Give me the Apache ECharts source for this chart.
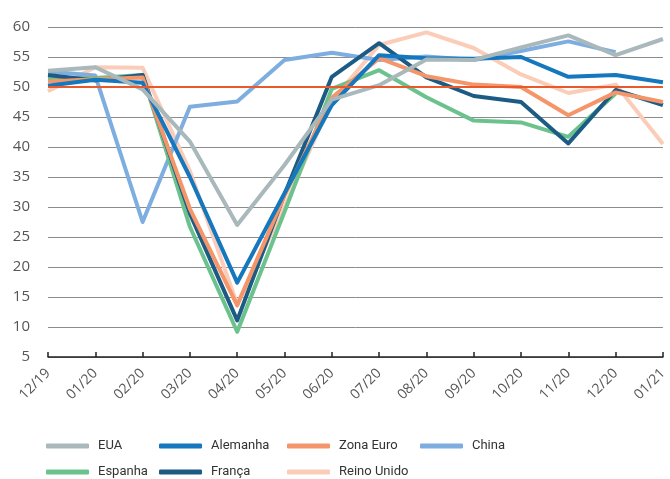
<!DOCTYPE html>
<html>
<head>
<meta charset="utf-8">
<script src="https://cdn.jsdelivr.net/npm/echarts@6/dist/echarts.min.js"></script>
<style>
    html, body { margin: 0; padding: 0; background: #fff; }
    #chart { width: 670px; height: 479px; }
</style>
</head>
<body>
<div id="chart"></div>
<script>
var meses = ['12/19', '01/20', '02/20', '03/20', '04/20', '05/20', '06/20', '07/20', '08/20', '09/20', '10/20', '11/20', '12/20', '01/21'];

var eua = [52.7, 53.3, 49.6, 40.9, 27.0, 37.0, 47.9, 50.3, 54.6, 54.5, 56.6, 58.6, 55.3, 58.0];
var alemanha = [50.2, 51.2, 50.7, 35.0, 17.4, 32.3, 47.0, 55.3, 54.8, 54.7, 55.0, 51.7, 52.0, 50.8];
var zonaEuro = [50.9, 51.3, 51.6, 29.7, 13.6, 31.9, 48.2, 54.8, 51.8, 50.4, 50.0, 45.3, 49.1, 47.5];
var china = [52.6, 51.9, 27.5, 46.7, 47.6, 54.5, 55.7, 54.5, 55.1, 54.5, 56.0, 57.6, 55.8, null];
var espanha = [51.5, 51.5, 52.0, 26.7, 9.2, 29.2, 49.7, 52.8, 48.3, 44.4, 44.1, 41.7, 48.9, null];
var franca = [52.0, 51.1, 52.0, 28.9, 11.1, 32.1, 51.7, 57.3, 51.6, 48.5, 47.5, 40.6, 49.5, 47.0];
var reinoUnido = [49.3, 53.3, 53.2, 36.0, 13.8, 30.0, 47.7, 57.0, 59.1, 56.5, 52.1, 49.0, 50.4, 40.5];

var yTicks = { min: 5, max: 60, step: 5 };
var referencia = 50;

var cores = {
    'EUA': '#a9b8ba',
    'Alemanha': '#1577bd',
    'Zona Euro': '#f4956a',
    'China': '#7eaee0',
    'Espanha': '#6cc28d',
    'França': '#1b5b84',
    'Reino Unido': '#fbcdb8'
};

var fonte = "'Open Sans', 'Noto Sans', sans-serif";
var fonteLegenda = "Roboto, 'Open Sans', sans-serif";

function serie(nome, dados) {
    return {
        name: nome,
        type: 'line',
        data: dados,
        symbol: 'none',
        connectNulls: false,
        lineStyle: { width: 4, color: cores[nome], join: 'round' },
        itemStyle: { color: cores[nome] },
        emphasis: { disabled: true }
    };
}

// uma legenda por item, para posicionar como no original
function legenda(left, centroY, nome) {
    return {
        left: left,
        top: centroY - 8,
        padding: 0,
        itemWidth: 43,
        itemHeight: 5,
        icon: 'roundRect',
        selectedMode: false,
        data: [nome],
        textStyle: { fontFamily: fonteLegenda, fontSize: 13, lineHeight: 16, color: '#333', padding: [0, 0, 0, 4] }
    };
}

var series = [
    serie('Reino Unido', reinoUnido),
    serie('China', china),
    serie('Espanha', espanha),
    serie('França', franca),
    serie('Zona Euro', zonaEuro),
    serie('Alemanha', alemanha),
    serie('EUA', eua)
];

series[0].markLine = {
    silent: true,
    symbol: 'none',
    label: { show: false },
    lineStyle: { type: 'solid', color: '#e85a2c', width: 2 },
    data: [{ yAxis: referencia }]
};

var chart = echarts.init(document.getElementById('chart'), null, { renderer: 'canvas' });

chart.setOption({
    animation: false,
    backgroundColor: '#fff',
    grid: { left: 48, right: 4, top: 27, bottom: 122, containLabel: false },
    legend: [
        legenda(46, 446, 'EUA'),
        legenda(159, 446, 'Alemanha'),
        legenda(287, 446, 'Zona Euro'),
        legenda(420, 446, 'China'),
        legenda(46, 472, 'Espanha'),
        legenda(159, 472, 'França'),
        legenda(287, 472, 'Reino Unido')
    ],
    xAxis: {
        type: 'category',
        data: meses,
        boundaryGap: false,
        axisLine: { lineStyle: { color: '#222', width: 1.5 } },
        axisTick: { show: true, inside: true, length: 5, lineStyle: { color: '#222', width: 1.5 } },
        axisLabel: { rotate: 45, interval: 0, margin: 14, fontFamily: fonte, fontSize: 14, color: '#555' }
    },
    yAxis: {
        type: 'value',
        min: yTicks.min,
        max: yTicks.max,
        interval: yTicks.step,
        axisLine: { show: false },
        axisTick: { show: false },
        axisLabel: { margin: 18, fontFamily: fonte, fontSize: 15, color: '#555' },
        splitLine: { lineStyle: { color: '#8c8c8c', width: 1 } }
    },
    series: series
});
</script>
</body>
</html>
